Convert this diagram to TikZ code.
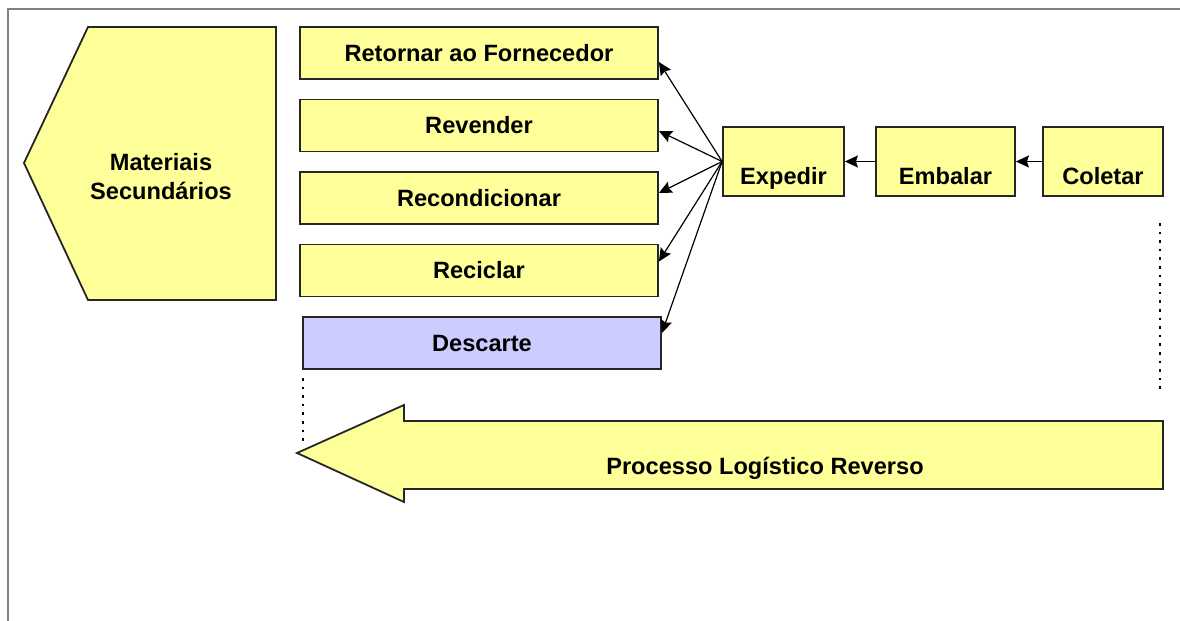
\documentclass[tikz,border=0pt]{standalone}
\usepackage{fontspec}
\setmainfont{Liberation Sans}
\usepackage{xcolor}
\usepackage{tikz}
\usetikzlibrary{positioning, arrows.meta}
\definecolor{boxyellow}{HTML}{FFFF99}
\definecolor{boxlilac}{HTML}{CCCCFF}
\definecolor{framegray}{HTML}{808080}
\tikzstyle{destino} = [rectangle, minimum width=179pt, minimum height=26pt, align=center, draw=black!85, line width=0.9pt, fill=boxyellow, font=\fontsize{11.8}{14.5}\selectfont\bfseries]
\tikzstyle{rejeito} = [destino, fill=boxlilac]
\tikzstyle{etapa} = [rectangle, minimum height=34.5pt, inner sep=2pt, text height=25pt, text depth=2.5pt, align=center, draw=black!85, line width=0.9pt, fill=boxyellow, font=\fontsize{11.8}{14.5}\selectfont\bfseries]
\tikzstyle{bigshape} = [draw=black!85, line width=0.9pt, fill=boxyellow]
\tikzstyle{rotulo} = [align=center, font=\fontsize{11.8}{14.5}\selectfont\bfseries]
\tikzstyle{arrow} = [-{Stealth[length=6.5pt, width=6pt, inset=1pt]}, line width=0.6pt]
\tikzstyle{guia} = [line width=1.3pt, dash pattern=on 1.3pt off 3pt]

\begin{document}
\begin{tikzpicture}[x=0.5pt, y=-0.5pt, node distance=36.25pt]
      \useasboundingbox (0,0) rectangle (1180,621);
      \draw [framegray, line width=1pt] (8,621) -- (8,8.5) -- (1180,8.5);
      % materiais secundarios
      \draw [bigshape] (88,27) -- (276,27) -- (276,300) -- (88,300) -- (24,163) -- cycle;
      \node (materiais) [rotulo] at (161,177) {Materiais\\Secundários};
      % destinos
      \node (retornar) [destino] at (479,53) {Retornar ao Fornecedor};
      \node (revender) [destino, below of=retornar] {Revender};
      \node (recondicionar) [destino, below of=revender] {Recondicionar};
      \node (reciclar) [destino, below of=recondicionar] {Reciclar};
      \node (descarte) [rejeito, below of=reciclar, xshift=1.5pt] {Descarte};
      % etapas
      \node (expedir) [etapa, minimum width=60.5pt] at (783.5,161.5) {Expedir};
      \node (embalar) [etapa, minimum width=69.5pt, right of=expedir, node distance=81pt] {Embalar};
      \node (coletar) [etapa, minimum width=60pt, right of=embalar, node distance=78.75pt] {Coletar};
      \draw [arrow] (coletar) -- (embalar);
      \draw [arrow] (embalar) -- (expedir);
      \draw [arrow] (expedir.west) -- ([yshift=-4.5pt]retornar.east);
      \draw [arrow] (expedir.west) -- ([yshift=-2.75pt]revender.east);
      \draw [arrow] (expedir.west) -- ([yshift=2.5pt]recondicionar.east);
      \draw [arrow] (expedir.west) -- ([yshift=4.5pt]reciclar.east);
      \draw [arrow] (expedir.west) -- ([yshift=5pt]descarte.east);
      % processo reverso
      \draw [guia] (1160,223) -- (1160,393);
      \draw [guia] (303,378) -- (303,442);
      \draw [bigshape] (1163,421) -- (404,421) -- (404,405) -- (297,453) -- (404,502) -- (404,489) -- (1163,489) -- cycle;
      \node (processo) [rotulo] at (765,468) {Processo Logístico Reverso};
    \end{tikzpicture}
\end{document}
